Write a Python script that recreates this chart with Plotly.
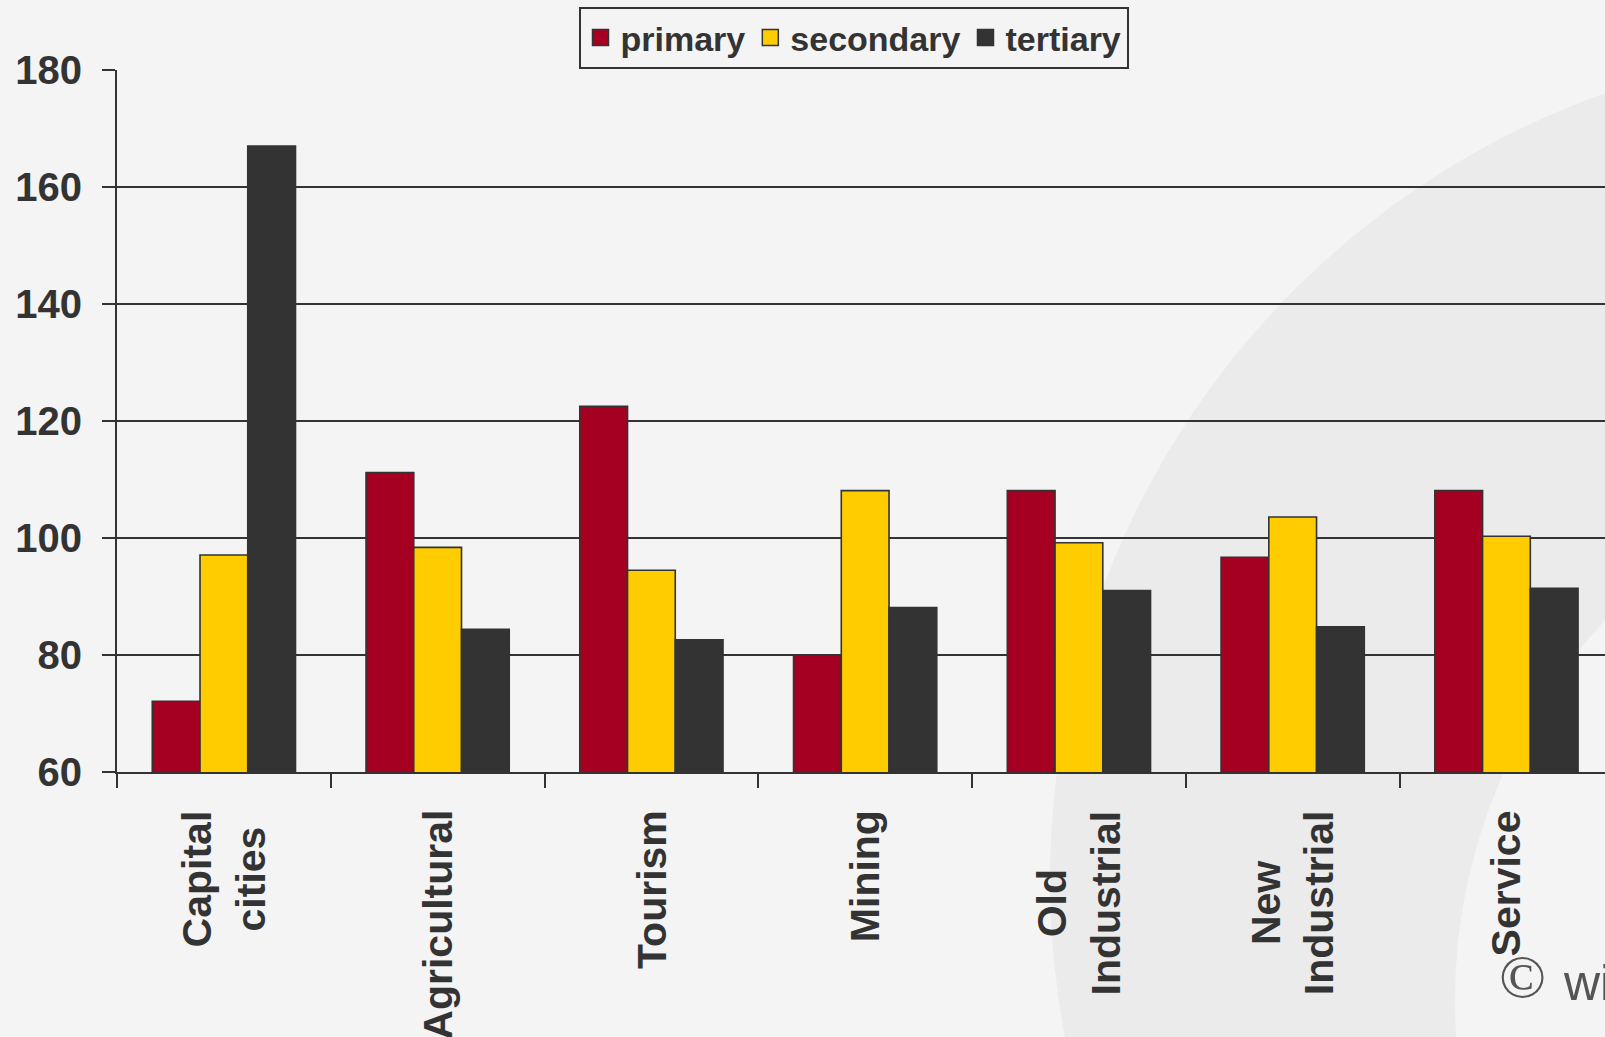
import plotly.graph_objects as go

# ---------------- data ----------------
categories = ["Capital cities", "Agricultural", "Tourism", "Mining",
              "Old Industrial", "New Industrial", "Service"]
category_labels = ["Capital<br>cities", "Agricultural", "Tourism", "Mining",
                   "Old<br>Industrial", "New<br>Industrial", "Service"]
primary = [72.1, 111.2, 122.5, 80.0, 108.1, 96.7, 108.1]
secondary = [97.1, 98.4, 94.5, 108.1, 99.2, 103.6, 100.3]
tertiary = [167.0, 84.4, 82.6, 88.1, 91.0, 84.8, 91.4]
series_names = ["primary", "secondary", "tertiary"]
y_ticks = [60, 80, 100, 120, 140, 160, 180]

# ---------------- style ----------------
W, H = 1605, 1037
ML, MR, MT, MB = 117, 0, 70, 265
PW, PH = W - ML - MR, H - MT - MB
GROUP_PX = 213.76
colors = ["#A50021", "#FFCC00", "#333333"]
ink = "#333333"
bg = "#F4F4F4"
font_family = "Liberation Sans, Arial, sans-serif"


def px_x(p):
    return (p - ML) / PW


def px_y(p):
    return (H - MB - p) / PH


fig = go.Figure()
for name, vals, col in zip(series_names, [primary, secondary, tertiary], colors):
    fig.add_trace(go.Bar(
        x=categories, y=vals, name=name, showlegend=False,
        marker=dict(color=col, line=dict(color=ink, width=1.6)),
    ))
# legend entries with larger square swatches
for name, col in zip(series_names, colors):
    fig.add_trace(go.Scatter(
        x=[None], y=[None], mode="markers", name=name,
        marker=dict(symbol="square", size=16, color=col,
                    line=dict(color=ink, width=1.5)),
    ))

# category labels (rotated, centred lines)
for cat, lab in zip(categories, category_labels):
    fig.add_annotation(
        x=cat, xref="x", y=px_y(808), yref="paper",
        text=lab, textangle=-90, showarrow=False,
        xanchor="center", yanchor="top", align="center",
        font=dict(family=font_family, size=41, color=ink, weight="bold"),
    )

# copyright note (cut off at the right edge, as in the original)
fig.add_annotation(
    x=px_x(1497), xref="paper", y=px_y(976), yref="paper",
    text="©", showarrow=False, xanchor="left", yanchor="middle",
    font=dict(family="Liberation Serif, Times New Roman, serif", size=62, color="#555555"),
)
fig.add_annotation(
    x=px_x(1561), xref="paper", y=px_y(983), yref="paper",
    text="wi", showarrow=False, xanchor="left", yanchor="middle",
    font=dict(family=font_family, size=50, color="#555555"),
)

# faint background swoosh (ring of a large circle)
def circle(cx, cy, r, fill):
    fig.add_shape(
        type="circle", xref="paper", yref="paper", layer="below",
        x0=px_x(cx - r), x1=px_x(cx + r), y0=px_y(cy + r), y1=px_y(cy - r),
        fillcolor=fill, line=dict(width=0),
    )

circle(1885, 880, 835, "#EBEBEB")
circle(2010, 1000, 555, bg)

fig.update_layout(
    width=W, height=H,
    margin=dict(l=ML, r=MR, t=MT, b=MB, pad=0),
    paper_bgcolor=bg, plot_bgcolor="rgba(0,0,0,0)",
    barmode="group", bargap=0.33, bargroupgap=0,
    font=dict(family=font_family, color=ink),
    showlegend=True,
    legend=dict(
        orientation="h", x=px_x(853.5), xanchor="center",
        y=px_y(7), yanchor="top",
        bgcolor=bg, bordercolor=ink, borderwidth=2,
        font=dict(family=font_family, size=34, color=ink, weight="bold"),
        itemwidth=30, tracegroupgap=0,
    ),
    xaxis=dict(
        type="category", categoryorder="array", categoryarray=categories,
        range=[-0.5, -0.5 + PW / GROUP_PX],
        showticklabels=False, tickson="boundaries",
        ticks="outside", ticklen=14, tickwidth=1.5, tickcolor=ink,
        showline=True, linecolor=ink, linewidth=2,
        showgrid=False, zeroline=False,
    ),
    yaxis=dict(
        range=[60, 180], tickvals=y_ticks, ticktext=[str(v) for v in y_ticks],
        ticks="outside", ticklen=13, tickwidth=1.5, tickcolor=ink,
        ticklabelstandoff=12,
        tickfont=dict(family=font_family, size=40, color=ink, weight="bold"),
        showline=True, linecolor=ink, linewidth=2,
        showgrid=True, gridcolor=ink, gridwidth=1.6,
        zeroline=False,
    ),
)

fig.write_html(
    "out.html",
    config={"displayModeBar": False},
    post_script="document.body.style.margin='0';document.body.style.overflow='hidden';",
)
